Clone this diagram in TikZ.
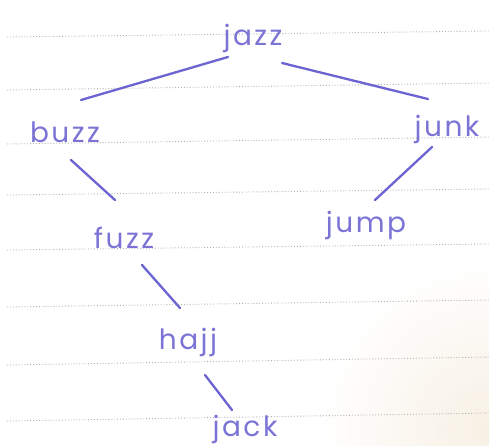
\documentclass[tikz,border=0pt]{standalone}
\usepackage{fontspec}
\newfontfamily\hand[LetterSpace=9]{Poppins}
\usetikzlibrary{calc}
\definecolor{ink}{HTML}{6C64D2}
\definecolor{rule}{HTML}{B0B0B0}
\definecolor{cream}{HTML}{F7F0E4}
\tikzset{
  word/.style={anchor=base, inner sep=0pt, text=ink!90, font=\hand\fontsize{28}{30}\selectfont},
  stroke/.style={draw=ink, line width=2.3pt, line cap=round},
  ruled/.style={draw=rule, line width=0.9pt, dotted},
}
\begin{document}
\begin{tikzpicture}[x=1pt, y=-1pt]
  \useasboundingbox (0,0) rectangle (489,445);
  % paper, warmer towards the lower right corner
  \begin{scope}
    \clip (0,0) rectangle (489,445);
    \fill[white] (0,0) rectangle (489,445);
    \shade[inner color=cream, outer color=white] (489,430) circle (170);
  \end{scope}
  % dotted ruling of the notebook page
  \foreach \yl/\yr in {37/31, 90/83, 144/137, 195/189, 250/244, 307/300, 365/357, 421/413}
    \draw[ruled] (7,\yl) -- (489,\yr);
  % words
  \node[word] (jazz) at (253,45) {jazz};
  \node[word] (buzz) at (65,142) {buzz};
  \node[word] (junk) at (447,136) {junk};
  \node[word] (fuzz) at (124,248) {fuzz};
  \node[word] (jump) at (366,232) {jump};
  \node[word] (hajj) at (188,349) {hajj};
  \node[word] (jack) at (245,436) {jack};
  % branches
  \draw[stroke] ($(jazz.base)+(-25,12)$) -- ($(buzz.base)+(16,-42)$);
  \draw[stroke] ($(jazz.base)+(29,18)$) -- ($(junk.base)+(-19,-37)$);
  \draw[stroke] ($(buzz.base)+(6,18)$) -- ($(fuzz.base)+(-9,-48)$);
  \draw[stroke] ($(junk.base)+(-15,11)$) -- ($(jump.base)+(9,-32)$);
  \draw[stroke] ($(fuzz.base)+(18,17)$) -- ($(hajj.base)+(-8,-41)$);
  \draw[stroke] ($(hajj.base)+(17,26)$) -- ($(jack.base)+(-13,-26)$);
\end{tikzpicture}
\end{document}
